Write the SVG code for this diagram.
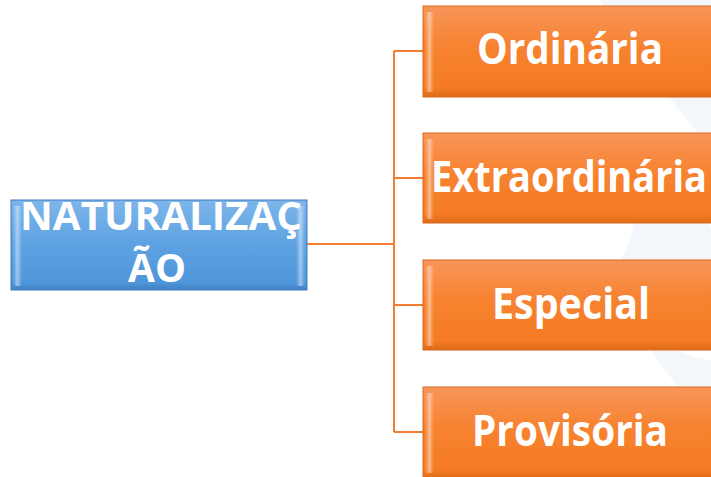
<svg xmlns="http://www.w3.org/2000/svg" width="711" height="477" viewBox="0 0 711 477">
  <style>
    .lbl { font-family: "Open Sans", "Liberation Sans", sans-serif; font-weight: bold; fill: #ffffff; text-anchor: middle; }
    .conn { stroke: #F07D30; stroke-width: 2; fill: none; }
  </style>
  <defs>
    <linearGradient id="orangeFill" x1="0" y1="0" x2="0" y2="1">
      <stop offset="0" stop-color="#F8955A"/>
      <stop offset="0.45" stop-color="#F7822F"/>
      <stop offset="0.9" stop-color="#F57B24"/>
      <stop offset="1" stop-color="#DE6A18"/>
    </linearGradient>
    <linearGradient id="blueFill" x1="0" y1="0" x2="0" y2="1">
      <stop offset="0" stop-color="#7DB5EA"/>
      <stop offset="0.5" stop-color="#5DA2E2"/>
      <stop offset="0.92" stop-color="#4E95DA"/>
      <stop offset="1" stop-color="#3F80C4"/>
    </linearGradient>
    <linearGradient id="edgeL" x1="0" y1="0" x2="1" y2="0">
      <stop offset="0" stop-color="#ffffff" stop-opacity="0"/>
      <stop offset="0.5" stop-color="#ffffff" stop-opacity="0.45"/>
      <stop offset="1" stop-color="#ffffff" stop-opacity="0"/>
    </linearGradient>
  </defs>

  <rect width="711" height="477" fill="#ffffff"/>

  <!-- faint background mark -->
  <g fill="#F1F4F9" opacity="0.8">
    <path d="M600 0 L711 0 L711 150 C690 120 650 80 600 0 Z"/>
    <path d="M620 140 C660 160 700 200 711 230 L711 330 C690 300 650 280 620 260 C640 230 640 180 620 140 Z"/>
    <path d="M640 330 C670 350 700 360 711 360 L711 420 C690 400 660 370 640 330 Z"/>
  </g>

  <!-- connectors -->
  <g id="connectors">
    <path class="conn" d="M307 244 H394"/>
    <path class="conn" d="M394 51 V432"/>
    <path class="conn" d="M394 51 H423"/>
    <path class="conn" d="M394 178 H423"/>
    <path class="conn" d="M394 305 H423"/>
    <path class="conn" d="M394 432 H423"/>
  </g>

  <!-- root node -->
  <g id="node-naturalizacao">
    <rect x="11" y="200" width="296" height="90" fill="url(#blueFill)" stroke="#3E7DBF" stroke-width="1"/>
    <rect x="13" y="206" width="9" height="80" fill="url(#edgeL)"/>
    <rect x="296" y="206" width="9" height="80" fill="url(#edgeL)"/>
    <text class="lbl" x="161" y="230" font-size="39" textLength="282" lengthAdjust="spacingAndGlyphs">NATURALIZAÇ</text>
    <text class="lbl" x="157" y="282" font-size="39">ÃO</text>
  </g>

  <!-- child nodes -->
  <g id="node-ordinaria">
    <rect x="423" y="6" width="300" height="91" fill="url(#orangeFill)" stroke="#D8691C" stroke-width="1"/>
    <rect x="425" y="12" width="9" height="80" fill="url(#edgeL)"/>
    <text class="lbl" x="570" y="64" font-size="43" textLength="186" lengthAdjust="spacingAndGlyphs">Ordinária</text>
  </g>

  <g id="node-extraordinaria">
    <rect x="423" y="133" width="300" height="90" fill="url(#orangeFill)" stroke="#D8691C" stroke-width="1"/>
    <rect x="425" y="139" width="9" height="80" fill="url(#edgeL)"/>
    <text class="lbl" x="569" y="192" font-size="43" textLength="276" lengthAdjust="spacingAndGlyphs">Extraordinária</text>
  </g>

  <g id="node-especial">
    <rect x="423" y="260" width="300" height="90" fill="url(#orangeFill)" stroke="#D8691C" stroke-width="1"/>
    <rect x="425" y="266" width="9" height="80" fill="url(#edgeL)"/>
    <text class="lbl" x="571" y="319" font-size="43" textLength="158" lengthAdjust="spacingAndGlyphs">Especial</text>
  </g>

  <g id="node-provisoria">
    <rect x="423" y="387" width="300" height="92" fill="url(#orangeFill)" stroke="#D8691C" stroke-width="1"/>
    <rect x="425" y="393" width="9" height="80" fill="url(#edgeL)"/>
    <text class="lbl" x="570" y="446" font-size="43" textLength="196" lengthAdjust="spacingAndGlyphs">Provisória</text>
  </g>
</svg>
